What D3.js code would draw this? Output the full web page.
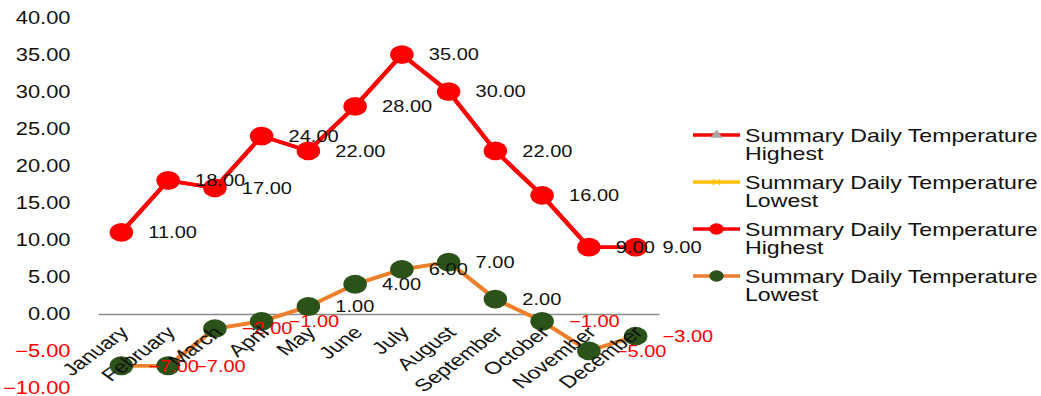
<!DOCTYPE html>
<html>
<head>
<meta charset="utf-8">
<script src="https://cdn.jsdelivr.net/npm/d3@7"></script>
<style>
  body { margin: 0; background: #fff; }
  svg { display: block; font-family: "Liberation Sans", Arial, sans-serif; }
</style>
</head>
<body>
<div id="chart"></div>
<script>
// data
const months = ["January", "February", "March", "April", "May", "June",
  "July", "August", "September", "October", "November", "December"];
const highest = [11, 18, 17, 24, 22, 28, 35, 30, 22, 16, 9, 9];
const lowest = [-7, -7, -2, -1, 1, 4, 6, 7, 2, -1, -5, -3];
const yTicks = [-10, -5, 0, 5, 10, 15, 20, 25, 30, 35, 40];
const legendNames = [
  "Summary Daily Temperature Highest",
  "Summary Daily Temperature Lowest",
  "Summary Daily Temperature Highest",
  "Summary Daily Temperature Lowest",
];

// the original picture is stretched sideways, so draw in a squeezed box
const SX = 1.25;
const width = 1041;
const height = 396;
const iw = width / SX;

const svg = d3
  .select("#chart")
  .append("svg")
  .attr("width", width)
  .attr("height", height)
  .attr("viewBox", `0 0 ${iw} ${height}`)
  .attr("preserveAspectRatio", "none");

const x = d3
  .scaleBand()
  .domain(months)
  .range([98 / SX, 659 / SX]);
const cx = (m) => x(m) + x.bandwidth() / 2;

const y = d3.scaleLinear().domain([-10, 40]).range([388, 17.5]);

// y axis labels only
const yAxis = svg
  .append("g")
  .attr("transform", `translate(${70.5 / SX},0)`)
  .call(d3.axisLeft(y).tickValues(yTicks).tickSize(0).tickPadding(0).tickFormat(d3.format(".2f")));
yAxis.select(".domain").remove();
yAxis
  .selectAll("text")
  .attr("font-size", 17.5)
  .attr("font-family", "Liberation Sans, Arial, sans-serif")
  .attr("fill", (d) => (d < 0 ? "#ff0000" : "#111"));

// x axis sits at zero
const xAxis = svg
  .append("g")
  .attr("transform", `translate(0,${y(0)})`)
  .call(d3.axisBottom(x).tickSize(0).tickSizeOuter(0));
xAxis.select(".domain").attr("stroke", "#8c8c8c").attr("stroke-width", 1.5);
xAxis.selectAll("text").remove();

const series = [
  { values: highest, line: "#ff0000", marker: "tri", fill: "#a5a5a5" },
  { values: lowest, line: "#ffc000", marker: "x", fill: "#ffc000" },
  { values: highest, line: "#ff0000", marker: "circle", fill: "#ff0000" },
  { values: lowest, line: "#ed7d31", marker: "circle", fill: "#2b5219" },
];

const line = d3
  .line()
  .x((d, i) => cx(months[i]))
  .y((d) => y(d));

series.forEach((s) => {
  svg
    .append("path")
    .datum(s.values)
    .attr("fill", "none")
    .attr("stroke", s.line)
    .attr("stroke-width", 3.6)
    .attr("stroke-linejoin", "round")
    .attr("d", line);
  if (s.marker === "circle") {
    svg
      .append("g")
      .selectAll("circle")
      .data(s.values)
      .enter()
      .append("circle")
      .attr("cx", (d, i) => cx(months[i]))
      .attr("cy", (d) => y(d))
      .attr("r", 9.4)
      .attr("fill", s.fill);
  }
});

// data labels
[highest, lowest].forEach((vals) => {
  svg
    .append("g")
    .selectAll("text")
    .data(vals)
    .enter()
    .append("text")
    .attr("x", (d, i) => cx(months[i]) + 27 / SX)
    .attr("y", (d) => y(d))
    .attr("dy", "0.36em")
    .attr("font-size", 16)
    .attr("fill", (d) => (d < 0 ? "#ff0000" : "#111"))
    .text((d) => d3.format(".2f")(d));
});

// month labels, drawn on top
svg
  .append("g")
  .selectAll("text")
  .data(months)
  .enter()
  .append("text")
  .attr("transform", (m) => `translate(${cx(m) - 3 / SX},${y(0) + 11}) scale(1.08,1) rotate(-45)`)
  .attr("text-anchor", "end")
  .attr("dy", "0.71em")
  .attr("font-size", 17.2)
  .attr("fill", "#111")
  .text((m) => m);

// legend
const legend = svg
  .append("g")
  .selectAll("g")
  .data(series)
  .enter()
  .append("g")
  .attr("transform", (d, i) => `translate(0,${135 + i * 47})`);

legend
  .append("line")
  .attr("x1", 693 / SX)
  .attr("x2", 740 / SX)
  .attr("stroke", (d) => d.line)
  .attr("stroke-width", 3.6);

legend
  .filter((d) => d.marker === "circle")
  .append("circle")
  .attr("cx", 716.5 / SX)
  .attr("r", 5.8)
  .attr("fill", (d) => d.fill);

legend
  .filter((d) => d.marker === "tri")
  .append("path")
  .attr("transform", `translate(${716.5 / SX},0)`)
  .attr("d", d3.symbol(d3.symbolTriangle, 40))
  .attr("fill", (d) => d.fill);

legend
  .filter((d) => d.marker === "x")
  .append("path")
  .attr("transform", `translate(${716.5 / SX},0)`)
  .attr("d", "M-3,-3L3,3M-3,3L3,-3")
  .attr("stroke", (d) => d.fill)
  .attr("stroke-width", 1);

const lt = legend
  .append("text")
  .attr("x", 745 / SX)
  .attr("font-size", 18.5)
  .attr("fill", "#111");
lt.append("tspan")
  .attr("x", 745 / SX)
  .attr("y", 7)
  .text((d, i) => legendNames[i].replace(/ (Highest|Lowest)$/, ""));
lt.append("tspan")
  .attr("x", 745 / SX)
  .attr("y", 25)
  .text((d, i) => legendNames[i].match(/(Highest|Lowest)$/)[0]);
</script>
</body>
</html>
